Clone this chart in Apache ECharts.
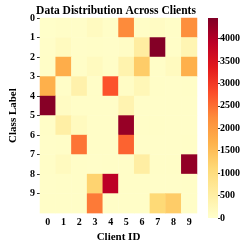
<!DOCTYPE html>
<html><head><meta charset="utf-8">
<script src="https://cdn.jsdelivr.net/npm/echarts@6/dist/echarts.min.js"></script>
<style>html,body{margin:0;padding:0;background:#fff}#c{width:246px;height:248px}</style>
</head><body><div id="c"></div>
<script>
const clients = ['0','1','2','3','4','5','6','7','8','9'];
const classes = ['0','1','2','3','4','5','6','7','8','9'];
const classTicks = [0,1,2,3,4,5,6,7,8,9];
const cbTicks = [0,500,1000,1500,2000,2500,3000,3500,4000];
const vmax = 4460;
// values per class label (rows), by client id (columns)
const class0 = [40, 60, 50, 150, 60, 2250, 70, 110, 60, 2200];
const class1 = [50, 160, 50, 60, 50, 90, 550, 4420, 60, 320];
const class2 = [60, 1750, 60, 170, 60, 380, 1300, 60, 160, 1700];
const class3 = [1700, 60, 420, 60, 2750, 90, 260, 60, 50, 60];
const class4 = [4400, 110, 60, 60, 60, 360, 50, 50, 50, 50];
const class5 = [60, 500, 160, 60, 60, 4250, 60, 60, 50, 50];
const class6 = [50, 60, 2450, 60, 60, 2600, 50, 50, 50, 60];
const class7 = [60, 170, 60, 50, 60, 60, 520, 60, 60, 4300];
const class8 = [50, 60, 60, 1200, 3900, 60, 60, 50, 50, 60];
const class9 = [60, 60, 60, 2400, 60, 60, 60, 1100, 1300, 60];
const rows = [class0,class1,class2,class3,class4,class5,class6,class7,class8,class9];
const palette = ['#ffffcc','#ffeda0','#fed976','#feb24c','#fd8d3c','#fc4e2a','#e31a1c','#bd0026','#800026'];

const data = [];
rows.forEach((r, y) => r.forEach((v, x) => data.push([x, y, v])));

const font = 'Liberation Serif';
const lbl = {fontFamily: font, fontWeight: 'bold', fontSize: 10, color: '#000'};
const chart = echarts.init(document.getElementById('c'), null, {renderer:'canvas'});
chart.setOption({
  animation: false,
  backgroundColor: '#fff',
  title: {text: 'Data Distribution Across Clients', left: 111, textAlign: 'center', top: 0,
    textStyle: {fontFamily: font, fontWeight: 'bold', fontSize: 11.5, color: '#000'}},
  grid: [
    {left: 25, top: 18, width: 172, height: 200},
    {left: 208, top: 18, width: 10, height: 200}
  ],
  xAxis: [
    {type: 'category', data: clients, gridIndex: 0, name: 'Client ID', nameLocation: 'middle', nameGap: 18,
     nameTextStyle: {fontFamily: font, fontWeight: 'bold', fontSize: 11, color: '#000'},
     axisLine: {show: false}, axisTick: {alignWithLabel: true, length: 3, lineStyle: {color: '#333'}},
     axisLabel: Object.assign({margin: 4}, lbl), splitLine: {show: false}},
    {type: 'category', data: ['c'], gridIndex: 1, show: false}
  ],
  yAxis: [
    {type: 'category', data: classes, inverse: true, gridIndex: 0, show: false},
    {type: 'value', gridIndex: 1, min: 0, max: vmax, position: 'right',
     axisLine: {show: false}, axisTick: {show: true, length: 2, lineStyle: {color: '#333'}, customValues: cbTicks},
     axisLabel: Object.assign({margin: 2, customValues: cbTicks, formatter: v => String(v)}, lbl),
     splitLine: {show: false}},
    {type: 'value', gridIndex: 0, min: 0, max: classes.length, inverse: true, position: 'left',
     name: 'Class Label', nameLocation: 'middle', nameGap: 21,
     nameTextStyle: {fontFamily: font, fontWeight: 'bold', fontSize: 11, color: '#000'},
     axisLine: {show: false}, axisTick: {show: true, length: 3, lineStyle: {color: '#333'}, customValues: classTicks},
     axisLabel: Object.assign({margin: 5, customValues: classTicks, formatter: v => classes[v]}, lbl),
     splitLine: {show: false}}
  ],
  visualMap: {show: false, min: 0, max: vmax, seriesIndex: 0, inRange: {color: palette}},
  series: [
    {type: 'heatmap', xAxisIndex: 0, yAxisIndex: 0, data: data, itemStyle: {borderWidth: 0}},
    {type: 'bar', xAxisIndex: 1, yAxisIndex: 1, data: [vmax], barWidth: '100%',
     itemStyle: {color: new echarts.graphic.LinearGradient(0, 0, 0, 1,
       palette.slice().reverse().map((c, i) => ({offset: i / (palette.length - 1), color: c})))}}
  ]
});
</script></body></html>
